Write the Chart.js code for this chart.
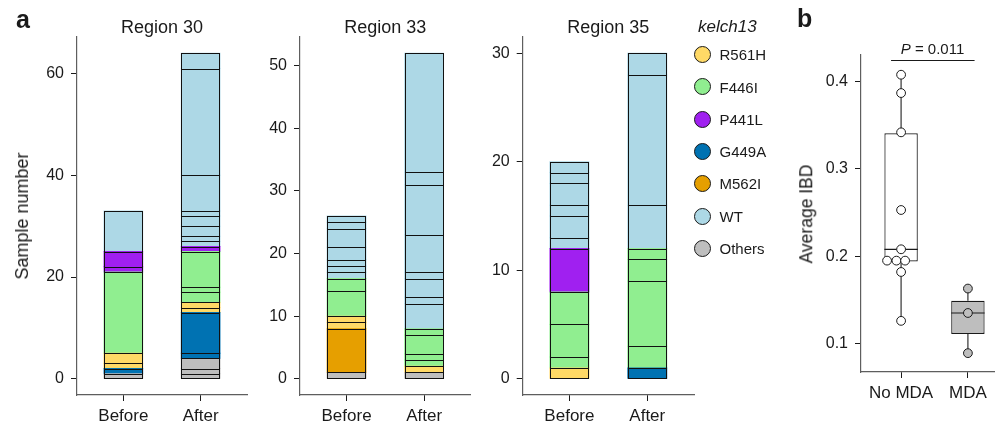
<!DOCTYPE html>
<html>
<head>
<meta charset="utf-8">
<script src="https://cdn.jsdelivr.net/npm/chart.js@4.4.0/dist/chart.umd.min.js"></script>
<style>
  html, body { margin: 0; padding: 0; width: 995px; height: 427px; overflow: hidden; background: #fff; }
  body { position: relative; font-family: "Liberation Sans", Arial, sans-serif; color: #1a1a1a; }
  canvas { position: absolute; left: 0; top: 0; }
  .t { position: absolute; white-space: nowrap; line-height: 1; }
  .dot { position: absolute; width: 15px; height: 15px; border-radius: 50%; border: 1px solid #1a1a1a; }
</style>
</head>
<body>
<script>
// ---- kelch13 genotypes and their fill colours ----
const mutationTypes  = ['R561H', 'F446I', 'P441L', 'G449A', 'M562I', 'WT', 'Others'];
const mutationColors = ['#FFD966', '#90EE90', '#A020F0', '#0072B2', '#E69F00', '#ADD8E6', '#BEBEBE'];
const timepoints = ['Before', 'After'];

// ---- Region 30: stacked sample groups, bottom to top ----
const r30BeforeTypes  = ['Others', 'G449A', 'R561H', 'R561H', 'F446I', 'P441L', 'P441L', 'WT'];
const r30BeforeCounts = [1, 1, 1, 2, 16, 1, 3, 8];
const r30AfterTypes   = ['Others', 'Others', 'Others', 'G449A', 'G449A', 'R561H', 'R561H', 'F446I', 'F446I', 'F446I',
                         'P441L', 'WT', 'WT', 'WT', 'WT', 'WT', 'WT', 'WT', 'WT'];
const r30AfterCounts  = [1, 1, 2, 1, 8, 1, 1, 2, 1, 7, 1, 1, 1, 2, 2, 1, 7, 21, 3];
const r30Ticks = [0, 20, 40, 60];

// ---- Region 33 ----
const r33BeforeTypes  = ['Others', 'M562I', 'R561H', 'R561H', 'F446I', 'F446I', 'WT', 'WT', 'WT', 'WT', 'WT', 'WT', 'WT'];
const r33BeforeCounts = [1, 7, 1, 1, 4, 2, 1, 1, 1, 2, 3, 1, 1];
const r33AfterTypes   = ['Others', 'R561H', 'F446I', 'F446I', 'F446I', 'F446I', 'WT', 'WT', 'WT', 'WT', 'WT', 'WT', 'WT', 'WT'];
const r33AfterCounts  = [1, 1, 1, 1, 3, 1, 4, 1, 3, 1, 6, 8, 2, 19];
const r33Ticks = [0, 10, 20, 30, 40, 50];

// ---- Region 35 ----
const r35BeforeTypes  = ['R561H', 'F446I', 'F446I', 'F446I', 'P441L', 'WT', 'WT', 'WT', 'WT', 'WT', 'WT'];
const r35BeforeCounts = [1, 1, 3, 3, 4, 1, 2, 1, 2, 1, 1];
const r35AfterTypes   = ['G449A', 'F446I', 'F446I', 'F446I', 'F446I', 'WT', 'WT', 'WT'];
const r35AfterCounts  = [1, 2, 6, 2, 1, 4, 12, 2];
const r35Ticks = [0, 10, 20, 30];

// ---- Panel b: average IBD by MDA status ----
const mdaGroups   = ['No MDA', 'MDA'];
const noMdaIBD    = [0.408, 0.387, 0.342, 0.253, 0.208, 0.195, 0.195, 0.195, 0.182, 0.126];
const noMdaDodge  = [0, 0, 0, 0, 0, -0.21, -0.07, 0.06, 0, 0];
const mdaIBD      = [0.163, 0.135, 0.089];
const mdaDodge    = [0, 0, 0];
const boxLow      = [0.126, 0.089];
const boxQ1       = [0.194, 0.111];
const boxMedian   = [0.208, 0.135];
const boxQ3       = [0.341, 0.149];
const boxHigh     = [0.408, 0.163];
const ibdTicks    = [0.1, 0.2, 0.3, 0.4];
const ibdRange    = [0.0674, 0.4306];
const pValueText  = '0.011';

// ---------------------------------------------------------------
Chart.defaults.font.family = '"Liberation Sans", Arial, sans-serif';
Chart.defaults.color = '#1a1a1a';

const H = 427;
const Y_W = 40, X_H = 30;
const INK = '#1a1a1a', AXIS = '#5e5e5e';

const colorOf = t => t === undefined ? 'rgba(0,0,0,0)' : mutationColors[mutationTypes.indexOf(t)];
const total = a => a.reduce((s, v) => s + v, 0);

function makeCanvas(w) {
  const c = document.createElement('canvas');
  c.width = w; c.height = H;
  c.style.width = w + 'px'; c.style.height = H + 'px';
  document.body.appendChild(c);
  return c;
}

function padFor(area, w) {
  return { left: area.left - Y_W, top: area.top, right: w - area.right, bottom: H - area.bottom - X_H };
}

function xScale(labels) {
  return {
    type: 'linear', min: -0.6, max: labels.length - 1 + 0.6, stacked: true, offset: false,
    afterBuildTicks: s => { s.ticks = labels.map((_, i) => ({ value: i })); },
    afterFit: s => { s.height = X_H; },
    ticks: { callback: v => labels[v], font: { size: 17 }, color: INK, padding: 5, maxRotation: 0, autoSkip: false },
    grid: { offset: false, drawOnChartArea: false, drawTicks: true, tickLength: 6, tickColor: INK, tickWidth: 1 },
    border: { display: true, color: AXIS, width: 1.2 }
  };
}

function yScale(ticks, min, max, stacked) {
  return {
    type: 'linear', min, max, stacked,
    afterBuildTicks: s => { s.ticks = ticks.map(v => ({ value: v })); },
    afterFit: s => { s.width = Y_W; },
    ticks: { font: { size: 16 }, color: INK, padding: 7 },
    grid: { offset: false, drawOnChartArea: false, drawTicks: true, tickLength: 6, tickColor: INK, tickWidth: 1 },
    border: { display: true, color: AXIS, width: 1.2 }
  };
}

// crisp outlines around every stacked segment, taken from the bar elements
const segmentOutlines = {
  id: 'segmentOutlines',
  afterDatasetsDraw(chart) {
    const { ctx } = chart;
    ctx.save();
    ctx.strokeStyle = '#111';
    ctx.lineWidth = 1;
    chart.data.datasets.forEach((ds, di) => {
      chart.getDatasetMeta(di).data.forEach((bar, i) => {
        if (ds.data[i] == null) return;
        const l = Math.round(bar.x - bar.width / 2), r = Math.round(bar.x + bar.width / 2);
        const t = Math.round(Math.min(bar.y, bar.base)), b = Math.round(Math.max(bar.y, bar.base));
        ctx.strokeRect(l + 0.5, t + 0.5, r - l - 1, b - t);
      });
    });
    ctx.restore();
  }
};

function regionChart(area, beforeT, beforeC, afterT, afterC, ticks) {
  const w = 995;
  const n = Math.max(beforeC.length, afterC.length);
  const datasets = [];
  for (let i = 0; i < n; i++) {
    datasets.push({
      data: [beforeC[i] ?? null, afterC[i] ?? null],
      backgroundColor: [colorOf(beforeT[i]), colorOf(afterT[i])],
      borderWidth: 0,
      inflateAmount: 0.5,
      barPercentage: 0.5,
      categoryPercentage: 1
    });
  }
  const top = Math.max(total(beforeC), total(afterC));
  new Chart(makeCanvas(w), {
    type: 'bar',
    data: { labels: timepoints.map((_, i) => i), datasets },
    options: {
      responsive: false, animation: false, devicePixelRatio: 1,
      layout: { padding: padFor(area, w) },
      plugins: { legend: { display: false }, tooltip: { enabled: false } },
      scales: { x: xScale(timepoints), y: yScale(ticks, -top * 0.05, top * 1.05, true) }
    },
    plugins: [segmentOutlines]
  });
}

regionChart({ left: 77, right: 247, top: 37, bottom: 395 }, r30BeforeTypes, r30BeforeCounts, r30AfterTypes, r30AfterCounts, r30Ticks);
regionChart({ left: 300, right: 470.7, top: 37, bottom: 395 }, r33BeforeTypes, r33BeforeCounts, r33AfterTypes, r33AfterCounts, r33Ticks);
regionChart({ left: 522.7, right: 694, top: 37, bottom: 395 }, r35BeforeTypes, r35BeforeCounts, r35AfterTypes, r35AfterCounts, r35Ticks);

// ---- Panel b: box plot with dots ----
const boxParts = {
  id: 'boxParts',
  beforeDatasetsDraw(chart) {
    const { ctx, scales: { y } } = chart;
    const boxes = chart.getDatasetMeta(1).data;
    ctx.save();
    ctx.strokeStyle = '#333';
    ctx.lineWidth = 1.2;
    boxes.forEach((bar, i) => {
      ctx.beginPath();
      ctx.moveTo(bar.x, y.getPixelForValue(boxQ3[i]));
      ctx.lineTo(bar.x, y.getPixelForValue(boxHigh[i]));
      ctx.moveTo(bar.x, y.getPixelForValue(boxQ1[i]));
      ctx.lineTo(bar.x, y.getPixelForValue(boxLow[i]));
      ctx.stroke();
    });
    ctx.restore();
  },
  afterDatasetDraw(chart, args) {
    if (args.index !== 1) return;
    const { ctx, scales: { x, y } } = chart;
    ctx.save();
    ctx.strokeStyle = INK;
    ctx.lineWidth = 1.2;
    args.meta.data.forEach((bar, i) => {
      const py = y.getPixelForValue(boxMedian[i]);
      ctx.beginPath();
      ctx.moveTo(bar.x - bar.width / 2, py);
      ctx.lineTo(bar.x + bar.width / 2, py);
      ctx.stroke();
    });
    // significance bracket between the two groups
    const by = Math.round(y.getPixelForValue(0.425)) + 0.5;
    ctx.strokeStyle = INK;
    ctx.lineWidth = 1;
    ctx.beginPath();
    ctx.moveTo(x.getPixelForValue(-0.15), by);
    ctx.lineTo(x.getPixelForValue(1.1), by);
    ctx.stroke();
    ctx.restore();
  }
};

(function () {
  const w = 1050;
  const area = { left: 861, right: 1008, top: 55, bottom: 372 };
  const points = noMdaIBD.map((v, i) => ({ x: 0 + noMdaDodge[i], y: v }))
    .concat(mdaIBD.map((v, i) => ({ x: 1 + mdaDodge[i], y: v })));
  const fills = noMdaIBD.map(() => '#ffffff').concat(mdaIBD.map(() => '#BEBEBE'));
  new Chart(makeCanvas(w), {
    type: 'bar',
    data: {
      labels: mdaGroups.map((_, i) => i),
      datasets: [
        {
          type: 'scatter', data: points, order: 1,
          pointRadius: 4.4, pointBackgroundColor: fills, pointBorderColor: INK, pointBorderWidth: 1
        },
        {
          type: 'bar', order: 2,
          data: mdaGroups.map((_, i) => [boxQ1[i], boxQ3[i]]),
          backgroundColor: ['#ffffff', '#BEBEBE'],
          borderColor: INK, borderWidth: 1.2, borderSkipped: false, inflateAmount: 0,
          barPercentage: 0.5, categoryPercentage: 1
        }
      ]
    },
    options: {
      responsive: false, animation: false, devicePixelRatio: 1,
      layout: { padding: padFor(area, w) },
      plugins: { legend: { display: false }, tooltip: { enabled: false } },
      scales: { x: xScale(mdaGroups), y: yScale(ibdTicks, ibdRange[0], ibdRange[1], false) }
    },
    plugins: [boxParts]
  });
})();

// ---- text: panel letters, titles, axis titles, legend ----
function text(str, x, baseline, size, opts = {}) {
  const d = document.createElement('div');
  d.className = 't';
  d.innerHTML = str;
  d.style.fontSize = size + 'px';
  d.style.top = (baseline - size * 0.8465) + 'px';
  d.style.left = x + 'px';
  if (opts.bold) d.style.fontWeight = 'bold';
  if (opts.italic) d.style.fontStyle = 'italic';
  if (opts.center) d.style.transform = 'translateX(-50%)';
  document.body.appendChild(d);
  return d;
}
function vtext(str, cx, cy, size) {
  const d = document.createElement('div');
  d.className = 't';
  d.textContent = str;
  d.style.fontSize = size + 'px';
  d.style.left = cx + 'px';
  d.style.top = cy + 'px';
  d.style.transform = 'translate(-50%, -50%) rotate(-90deg)';
  document.body.appendChild(d);
}

text('a', 16, 28, 25, { bold: true });
text('b', 797, 27, 25, { bold: true });
text('Region 30', 162, 33.5, 18, { center: true });
text('Region 33', 385.3, 33.5, 18, { center: true });
text('Region 35', 608.3, 33.5, 18, { center: true });
vtext('Sample number', 22, 216, 18);
vtext('Average IBD', 806.5, 213.5, 17.5);
text('<i>P</i> = ' + pValueText, 932.5, 53.3, 15, { center: true });

text('kelch13', 698, 32.3, 17, { italic: true });
mutationTypes.forEach((t, i) => {
  const cy = 54.7 + i * 32.27;
  const dot = document.createElement('div');
  dot.className = 'dot';
  dot.style.left = (702.7 - 8.5) + 'px';
  dot.style.top = (cy - 8.5) + 'px';
  dot.style.background = mutationColors[i];
  document.body.appendChild(dot);
  text(t, 719.5, cy + 5.4, 15);
});
</script>
</body>
</html>
